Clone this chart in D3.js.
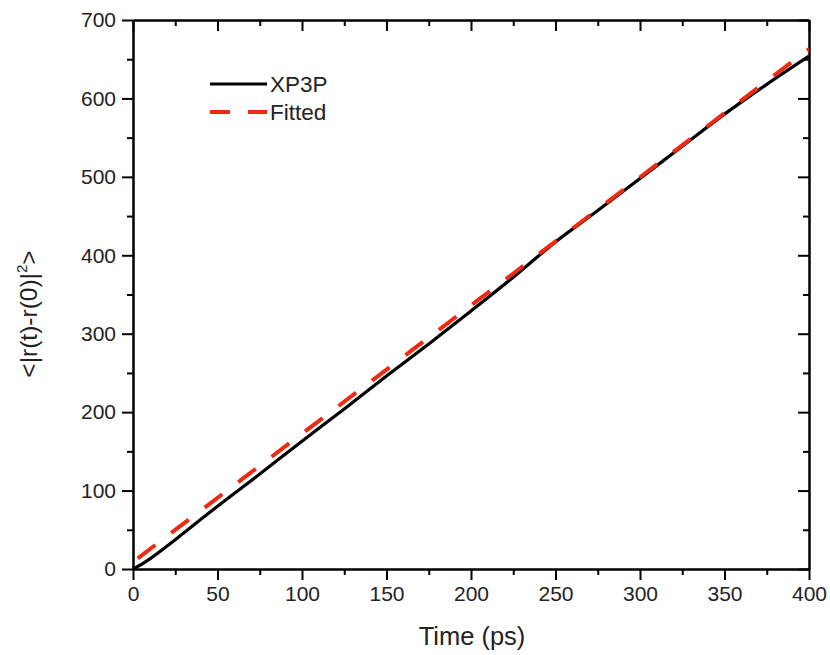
<!DOCTYPE html>
<html>
<head>
<meta charset="utf-8">
<script src="https://cdn.jsdelivr.net/npm/d3@7/dist/d3.min.js"></script>
<style>
  html, body { margin: 0; padding: 0; background: #fff; }
  svg { display: block; font-family: "Liberation Sans", Arial, sans-serif; }
</style>
</head>
<body>
<svg id="chart" width="830" height="655"></svg>
<script>
// ---- data ----
const timePs = [0, 5, 10, 20, 30, 40, 50, 75, 100, 125, 150, 175, 200, 225, 250, 275, 300, 325, 350, 375, 400];
const xp3pMSD = [0, 6, 13, 29, 46, 63, 80, 121, 163, 204, 246, 287, 329, 372, 417, 457, 498, 539, 580, 618, 654];
const fittedTime = [0, 400];
const fittedMSD = [9, 663];
const xTickValues = [0, 50, 100, 150, 200, 250, 300, 350, 400];
const yTickValues = [0, 100, 200, 300, 400, 500, 600, 700];
const xMinorTicks = [25, 75, 125, 175, 225, 275, 325, 375];
const yMinorTicks = [50, 150, 250, 350, 450, 550, 650];
const seriesNames = ["XP3P", "Fitted"];

// ---- layout ----
const svg = d3.select("#chart");
const mLeft = 133, mRight = 809, mTop = 20, mBottom = 569;
const x = d3.scaleLinear().domain([0, 400]).range([mLeft, mRight]);
const y = d3.scaleLinear().domain([0, 700]).range([mBottom, mTop]);

const majorLen = 11, minorLen = 6;

function styleAxis(g) {
  g.select(".domain").attr("stroke", "#000").attr("stroke-width", 2);
  g.selectAll(".tick line").attr("stroke", "#000").attr("stroke-width", 2);
  g.selectAll(".tick text").attr("fill", "#222").attr("font-size", 21)
    .attr("font-family", "Liberation Sans, Arial, sans-serif");
}

// bottom
svg.append("g").attr("transform", `translate(0,${mBottom})`)
  .call(d3.axisBottom(x).tickValues(xTickValues).tickSize(majorLen).tickSizeOuter(0).tickPadding(6).tickFormat(d3.format("d")))
  .call(styleAxis);
svg.append("g").attr("transform", `translate(0,${mBottom})`)
  .call(d3.axisBottom(x).tickValues(xMinorTicks).tickSize(minorLen).tickSizeOuter(0).tickFormat(""))
  .call(styleAxis);
// top (ticks inward)
svg.append("g").attr("transform", `translate(0,${mTop})`)
  .call(d3.axisBottom(x).tickValues(xTickValues).tickSize(majorLen).tickSizeOuter(0).tickFormat(""))
  .call(styleAxis);
svg.append("g").attr("transform", `translate(0,${mTop})`)
  .call(d3.axisBottom(x).tickValues(xMinorTicks).tickSize(minorLen).tickSizeOuter(0).tickFormat(""))
  .call(styleAxis);
// left
svg.append("g").attr("transform", `translate(${mLeft},0)`)
  .call(d3.axisLeft(y).tickValues(yTickValues).tickSize(majorLen).tickSizeOuter(0).tickPadding(6).tickFormat(d3.format("d")))
  .call(styleAxis);
svg.append("g").attr("transform", `translate(${mLeft},0)`)
  .call(d3.axisLeft(y).tickValues(yMinorTicks).tickSize(minorLen).tickSizeOuter(0).tickFormat(""))
  .call(styleAxis);
// right (ticks inward)
svg.append("g").attr("transform", `translate(${mRight},0)`)
  .call(d3.axisLeft(y).tickValues(yTickValues).tickSize(majorLen).tickSizeOuter(0).tickFormat(""))
  .call(styleAxis);
svg.append("g").attr("transform", `translate(${mRight},0)`)
  .call(d3.axisLeft(y).tickValues(yMinorTicks).tickSize(minorLen).tickSizeOuter(0).tickFormat(""))
  .call(styleAxis);

svg.append("clipPath").attr("id", "clip").append("rect")
  .attr("x", mLeft).attr("y", mTop).attr("width", mRight - mLeft).attr("height", mBottom - mTop);

const line = d3.line().x(d => x(d[0])).y(d => y(d[1])).curve(d3.curveMonotoneX);

const plot = svg.append("g").attr("clip-path", "url(#clip)");
plot.append("path")
  .datum(timePs.map((t, i) => [t, xp3pMSD[i]]))
  .attr("d", line).attr("fill", "none").attr("stroke", "#000").attr("stroke-width", 3.2);
plot.append("path")
  .datum(fittedTime.map((t, i) => [t, fittedMSD[i]]))
  .attr("d", d3.line().x(d => x(d[0])).y(d => y(d[1])))
  .attr("fill", "none").attr("stroke", "#f02a10").attr("stroke-width", 4)
  .attr("stroke-dasharray", "22,20").attr("stroke-dashoffset", -6);

// legend
const legend = svg.append("g");
const legY = [84, 112];
legend.append("line").attr("x1", 210).attr("x2", 267).attr("y1", legY[0]).attr("y2", legY[0])
  .attr("stroke", "#000").attr("stroke-width", 3.2);
legend.append("line").attr("x1", 210).attr("x2", 267).attr("y1", legY[1]).attr("y2", legY[1])
  .attr("stroke", "#f02a10").attr("stroke-width", 4).attr("stroke-dasharray", "20,18");
seriesNames.forEach((n, i) => {
  legend.append("text").attr("x", 270).attr("y", legY[i] + 8).attr("font-size", 22.5)
    .attr("fill", "#222").text(n);
});

// axis titles
svg.append("text").attr("x", (mLeft + mRight) / 2 + 1).attr("y", 645).attr("text-anchor", "middle")
  .attr("font-size", 25.5).attr("fill", "#222").text("Time (ps)");

const yt = svg.append("text").attr("transform", "translate(37,314) rotate(-90)")
  .attr("text-anchor", "middle").attr("font-size", 24.5).attr("fill", "#222");
yt.append("tspan").text("<|r(t)-r(0)|");
yt.append("tspan").attr("font-size", 15).attr("dy", -10).text("2");
yt.append("tspan").attr("dy", 10).text(">");
</script>
</body>
</html>
